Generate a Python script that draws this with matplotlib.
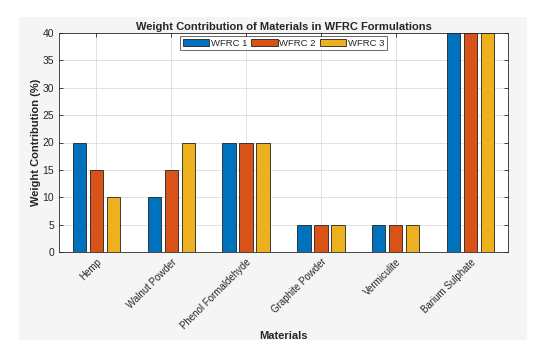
import matplotlib
matplotlib.use("Agg")
import matplotlib.pyplot as plt
import numpy as np
from matplotlib.patches import Rectangle

categories = ["Hemp", "Walnut Powder", "Phenol Formaldehyde", "Graphite Powder", "Vermiculite", "Barium Sulphate"]
series_names = ["WFRC 1", "WFRC 2", "WFRC 3"]
wfrc1 = [20, 10, 20, 5, 5, 40]
wfrc2 = [15, 15, 20, 5, 5, 40]
wfrc3 = [10, 20, 20, 5, 5, 40]
colors = ["#0072BD", "#D95319", "#EDB120"]
yticks = [0, 5, 10, 15, 20, 25, 30, 35, 40]

plt.rcParams['font.family'] = ['Liberation Sans', 'DejaVu Sans']

fig = plt.figure(figsize=(5.4, 3.49), dpi=100)
fig.patch.set_facecolor("white")
fig.patches.append(Rectangle((19/540, 1 - 340/349), (527-19)/540, (340-17)/349,
                             transform=fig.transFigure, facecolor="#f5f5f5", edgecolor="none", zorder=-10))
ax = fig.add_axes([59/540, 1 - 252/349, (508-59)/540, (252-33)/349])
ax.set_facecolor("white")

x = np.arange(1, len(categories) + 1)
offsets = [-0.227, 0.0, 0.227]
width = 0.18
for vals, off, c, name in zip([wfrc1, wfrc2, wfrc3], offsets, colors, series_names):
    ax.bar(x + off, vals, width=width, color=c, edgecolor="#222222", linewidth=0.6, label=name, zorder=3)

ax.set_xlim(0.5, 6.5)
ax.set_ylim(0, 40)
ax.set_yticks(yticks)
ax.set_xticks(x)
ax.set_xticklabels(categories, rotation=45, ha="right", rotation_mode="anchor", fontsize=7, color="#262626")
ax.tick_params(axis="y", labelsize=7.5, labelcolor="#262626")
ax.tick_params(direction="in", length=3, top=True, right=True, color="#262626", width=0.6)

# grid drawn behind bars, axis ticks on top (MATLAB style)
for yv in yticks:
    ax.axhline(yv, color="#dcdcdc", linewidth=0.6, zorder=0)
for xv in x:
    ax.axvline(xv, color="#dcdcdc", linewidth=0.6, zorder=0)
ax.set_axisbelow(False)
for s in ax.spines.values():
    s.set_color("#262626")
    s.set_linewidth(0.6)
    s.set_zorder(5)

ax.set_title("Weight Contribution of Materials in WFRC Formulations", fontsize=8, fontweight="bold", color="#262626", pad=2)
ax.set_xlabel("Materials", fontsize=8, fontweight="bold", color="#262626", labelpad=0)
ax.set_ylabel("Weight Contribution (%)", fontsize=8, fontweight="bold", color="#262626", labelpad=1)

leg = ax.legend(loc="upper center", ncol=3, fontsize=6.8, frameon=True, fancybox=False,
                handlelength=2.8, handleheight=0.8, columnspacing=0.4, handletextpad=0.2,
                borderpad=0.25, borderaxespad=0.35, edgecolor="#262626")
leg.get_frame().set_linewidth(0.6)
leg.set_zorder(10)
for t in leg.get_texts():
    t.set_color("#262626")

fig.savefig("out.png", dpi=100, facecolor=fig.get_facecolor())
